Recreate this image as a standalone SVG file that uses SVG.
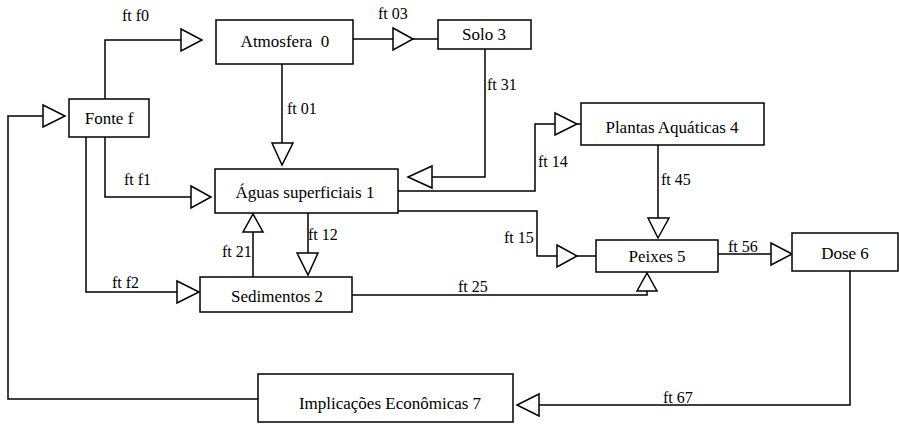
<svg xmlns="http://www.w3.org/2000/svg" width="899" height="424" viewBox="0 0 899 424">
<style>
.box{fill:#fff;stroke:#000;stroke-width:1.5}
.ln{fill:none;stroke:#000;stroke-width:1.5}
.arr{fill:#fff;stroke:#000;stroke-width:1.5;stroke-linejoin:miter}
text{font-family:'Liberation Serif','DejaVu Serif',serif;fill:#000}
.t{font-size:17px;text-anchor:middle;white-space:pre}
.lb{font-size:16px}
</style>
<rect width="899" height="424" fill="#fff"/>
<g id="connectors">
<polyline class="ln" points="105,99 105,40 181,40"/>
<polygon class="arr" points="181,29 202,40 181,51"/>
<text class="lb" x="122" y="21">ft f0</text>
<polyline class="ln" points="258,399 8,399 8,116 43,116"/>
<polygon class="arr" points="43,105 65,116 43,127"/>
<polyline class="ln" points="282,64 282,143"/>
<polygon class="arr" points="272,143 293,143 282,165"/>
<text class="lb" x="287" y="114">ft 01</text>
<polyline class="ln" points="353,39 393,39"/>
<polygon class="arr" points="393,28 413,39 393,50"/>
<polyline class="ln" points="413,39 438,39"/>
<text class="lb" x="378" y="19">ft 03</text>
<polyline class="ln" points="485,49 485,177 432,177"/>
<polygon class="arr" points="432,166 408,177 432,188"/>
<text class="lb" x="487" y="90">ft 31</text>
<polyline class="ln" points="398,191 535,191 535,124 555,124"/>
<polygon class="arr" points="555,113 577,124 555,135"/>
<polyline class="ln" points="577,124 581,124"/>
<text class="lb" x="538" y="167">ft 14</text>
<polyline class="ln" points="105,137 105,197 191,197"/>
<polygon class="arr" points="191,186 211,197 191,208"/>
<text class="lb" x="124" y="185">ft f1</text>
<polyline class="ln" points="86,137 86,292 177,292"/>
<polygon class="arr" points="177,281 199,292 177,303"/>
<text class="lb" x="112" y="288">ft f2</text>
<polyline class="ln" points="253,277 253,232"/>
<polygon class="arr" points="243,232 263,232 253,214"/>
<text class="lb" x="222" y="257">ft 21</text>
<polyline class="ln" points="308,213 308,253"/>
<polygon class="arr" points="297,253 318,253 308,275"/>
<text class="lb" x="308" y="240">ft 12</text>
<polyline class="ln" points="398,211 537,211 537,256 557,256"/>
<polygon class="arr" points="557,245 577,256 557,267"/>
<polyline class="ln" points="577,256 596,256"/>
<text class="lb" x="504" y="243">ft 15</text>
<polyline class="ln" points="352,295 647,295 647,291"/>
<polygon class="arr" points="637,291 657,291 647,273"/>
<text class="lb" x="458" y="292">ft 25</text>
<polyline class="ln" points="658,145 658,218"/>
<polygon class="arr" points="648,218 669,218 658,238"/>
<text class="lb" x="661" y="185">ft 45</text>
<polyline class="ln" points="718,254 771,254"/>
<polygon class="arr" points="771,243 792,254 771,265"/>
<text class="lb" x="728" y="252">ft 56</text>
<polyline class="ln" points="850,271 850,405 539,405"/>
<polygon class="arr" points="539,394 517,405 539,416"/>
<text class="lb" x="663" y="403">ft 67</text>
</g>
<g id="fonte"><rect class="box" x="69" y="99" width="80" height="38"/><text class="t" x="109" y="124">Fonte f</text></g>
<g id="atmosfera"><rect class="box" x="216" y="20" width="137" height="44"/><text class="t" x="285" y="47">Atmosfera  0</text></g>
<g id="solo"><rect class="box" x="438" y="20" width="93" height="29"/><text class="t" x="484" y="40">Solo 3</text></g>
<g id="aguas"><rect class="box" x="215" y="169" width="183" height="44"/><text class="t" x="305" y="198">Águas superficiais 1</text></g>
<g id="sedimentos"><rect class="box" x="200" y="277" width="152" height="35"/><text class="t" x="277" y="302">Sedimentos 2</text></g>
<g id="plantas"><rect class="box" x="581" y="103" width="183" height="42"/><text class="t" x="672" y="133">Plantas Aquáticas 4</text></g>
<g id="peixes"><rect class="box" x="596" y="240" width="122" height="32"/><text class="t" x="657" y="262">Peixes 5</text></g>
<g id="dose"><rect class="box" x="792" y="233" width="106" height="38"/><text class="t" x="845" y="259">Dose 6</text></g>
<g id="implicacoes"><rect class="box" x="258" y="374" width="255" height="48"/><text class="t" x="390" y="409">Implicações Econômicas 7</text></g>
</svg>
